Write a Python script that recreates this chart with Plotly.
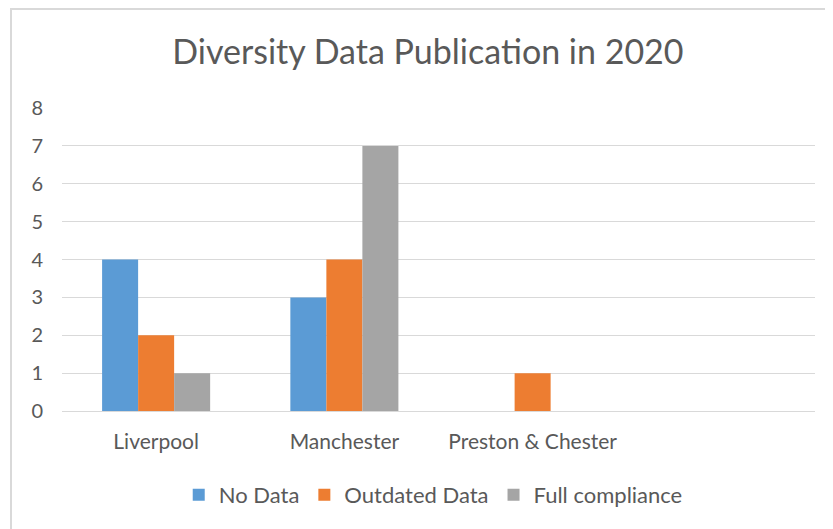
import plotly.graph_objects as go

# Categories (4th slot is empty in the original chart)
cities = ["Liverpool", "Manchester", "Preston & Chester", " "]
no_data = [4, 3, 0, None]
outdated_data = [2, 4, 1, None]
full_compliance = [1, 7, 0, None]
y_ticks = [0, 1, 2, 3, 4, 5, 6, 7, 8]

FONT = "Lato, Noto Sans, sans-serif"
GREY_TXT = "#595959"

fig = go.Figure()
fig.add_trace(go.Bar(x=cities, y=no_data, name="No Data",
                     marker=dict(color="#5B9BD5", line=dict(width=0))))
fig.add_trace(go.Bar(x=cities, y=outdated_data, name="Outdated Data",
                     marker=dict(color="#ED7D31", line=dict(width=0))))
fig.add_trace(go.Bar(x=cities, y=full_compliance, name="Full compliance",
                     marker=dict(color="#A5A5A5", line=dict(width=0))))

# page body has an 8px margin, so the figure is 8px smaller and offsets shifted
fig.update_layout(
    width=825,
    height=521,
    margin=dict(l=54, r=18, t=100, b=118),
    paper_bgcolor="white",
    plot_bgcolor="white",
    barmode="group",
    bargap=0.426,
    bargroupgap=0,
    font=dict(family=FONT, color=GREY_TXT, size=20),
    title=dict(
        text="Diversity Data Publication in 2020",
        x=0.509, xanchor="center",
        y=0.915, yanchor="middle",
        font=dict(size=34, color=GREY_TXT, family=FONT),
    ),
    legend=dict(
        orientation="h",
        x=0.493, xanchor="center",
        y=-0.277, yanchor="middle",
        font=dict(size=22, color=GREY_TXT),
        itemwidth=30,
        traceorder="normal",
    ),
    showlegend=True,
)

fig.update_xaxes(
    showgrid=False,
    showline=True,
    linecolor="#d9d9d9",
    linewidth=1,
    ticks="",
    ticklabelstandoff=12,
    tickfont=dict(size=21, color=GREY_TXT),
    fixedrange=True,
)
fig.update_yaxes(
    range=[0, 8],
    tickvals=y_ticks,
    showgrid=True,
    gridcolor="#d9d9d9",
    gridwidth=1,
    zeroline=False,
    showline=False,
    ticks="",
    ticklabelstandoff=18,
    tickfont=dict(size=20, color=GREY_TXT),
    fixedrange=True,
)

# light chart-area border, like the Excel frame
fig.add_shape(
    type="rect", xref="paper", yref="paper",
    x0=(3 - 54) / 753, x1=(840 - 54) / 753,
    y0=(403 - 540) / 303, y1=(403 - 1) / 303,
    line=dict(color="#d9d9d9", width=2),
    layer="below",
)

fig.write_html("out.html")
